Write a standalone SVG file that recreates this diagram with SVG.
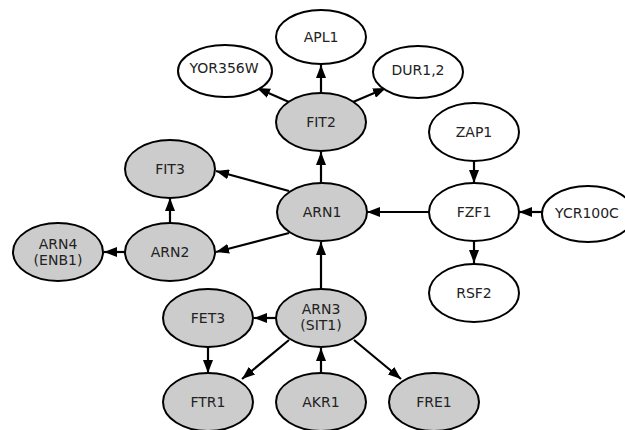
<svg xmlns="http://www.w3.org/2000/svg" width="625" height="430" viewBox="0 0 625 430">
<style>
.n ellipse{stroke:#000;stroke-width:2}
.g ellipse{fill:#cccccc}
.w ellipse{fill:#ffffff}
text{font-family:"DejaVu Sans",sans-serif;font-size:14px;fill:#222;text-anchor:middle}
.e line{stroke:#000;stroke-width:2.2}
</style>
<defs>
<marker id="a" markerWidth="13" markerHeight="10" refX="13" refY="5" orient="auto" markerUnits="userSpaceOnUse">
<path d="M0,0 L13,5 L0,10 Z" fill="#000"/>
</marker>
</defs>
<rect width="625" height="430" fill="#fff"/>
<g class="e">
<line x1="321" y1="93" x2="321" y2="65" marker-end="url(#a)"/>
<line x1="289" y1="102" x2="257" y2="88" marker-end="url(#a)"/>
<line x1="353" y1="102" x2="386" y2="88" marker-end="url(#a)"/>
<line x1="321" y1="183" x2="321" y2="152" marker-end="url(#a)"/>
<line x1="289" y1="191" x2="216" y2="171" marker-end="url(#a)"/>
<line x1="289" y1="233" x2="216" y2="252" marker-end="url(#a)"/>
<line x1="170" y1="223" x2="170" y2="198" marker-end="url(#a)"/>
<line x1="125" y1="252" x2="104" y2="252" marker-end="url(#a)"/>
<line x1="429" y1="212" x2="367" y2="212" marker-end="url(#a)"/>
<line x1="474" y1="162" x2="474" y2="183" marker-end="url(#a)"/>
<line x1="543" y1="212" x2="519" y2="212" marker-end="url(#a)"/>
<line x1="474" y1="242" x2="474" y2="263" marker-end="url(#a)"/>
<line x1="321" y1="289" x2="321" y2="242" marker-end="url(#a)"/>
<line x1="276" y1="318" x2="254" y2="318" marker-end="url(#a)"/>
<line x1="289" y1="340" x2="242" y2="379" marker-end="url(#a)"/>
<line x1="354" y1="340" x2="401" y2="379" marker-end="url(#a)"/>
<line x1="208" y1="347" x2="208" y2="373" marker-end="url(#a)"/>
<line x1="321" y1="373" x2="321" y2="348" marker-end="url(#a)"/>
</g>
<g id="APL1" class="n w"><ellipse cx="321" cy="37" rx="45" ry="27"/><text x="321" y="42">APL1</text></g>
<g id="YOR356W" class="n w"><ellipse cx="225" cy="71" rx="47" ry="26"/><text x="224" y="73">YOR356W</text></g>
<g id="DUR12" class="n w"><ellipse cx="418" cy="72" rx="45" ry="26"/><text x="418" y="75">DUR1,2</text></g>
<g id="FIT2" class="n g"><ellipse cx="321" cy="122" rx="45" ry="29"/><text x="321" y="127">FIT2</text></g>
<g id="ZAP1" class="n w"><ellipse cx="474" cy="132" rx="45" ry="29"/><text x="474" y="137">ZAP1</text></g>
<g id="FIT3" class="n g"><ellipse cx="170" cy="169" rx="45" ry="29"/><text x="170" y="174">FIT3</text></g>
<g id="ARN1" class="n g"><ellipse cx="322" cy="212" rx="45" ry="29"/><text x="322" y="217">ARN1</text></g>
<g id="FZF1" class="n w"><ellipse cx="474" cy="212" rx="45" ry="29"/><text x="474" y="217">FZF1</text></g>
<g id="YCR100C" class="n w"><ellipse cx="588" cy="214" rx="46" ry="28"/><text x="587" y="218">YCR100C</text></g>
<g id="ARN4" class="n g"><ellipse cx="58" cy="252" rx="45" ry="29"/><text x="58" y="249">ARN4</text><text x="58" y="265">(ENB1)</text></g>
<g id="ARN2" class="n g"><ellipse cx="170" cy="252" rx="45" ry="29"/><text x="170" y="257">ARN2</text></g>
<g id="RSF2" class="n w"><ellipse cx="474" cy="293" rx="45" ry="29"/><text x="474" y="298">RSF2</text></g>
<g id="FET3" class="n g"><ellipse cx="208" cy="318" rx="45" ry="29"/><text x="208" y="323">FET3</text></g>
<g id="ARN3" class="n g"><ellipse cx="321" cy="318" rx="45" ry="29"/><text x="321" y="314">ARN3</text><text x="321" y="330">(SIT1)</text></g>
<g id="FTR1" class="n g"><ellipse cx="208" cy="402" rx="45" ry="29"/><text x="208" y="407">FTR1</text></g>
<g id="AKR1" class="n g"><ellipse cx="321" cy="402" rx="45" ry="29"/><text x="321" y="407">AKR1</text></g>
<g id="FRE1" class="n g"><ellipse cx="434" cy="402" rx="45" ry="29"/><text x="434" y="407">FRE1</text></g>
</svg>
